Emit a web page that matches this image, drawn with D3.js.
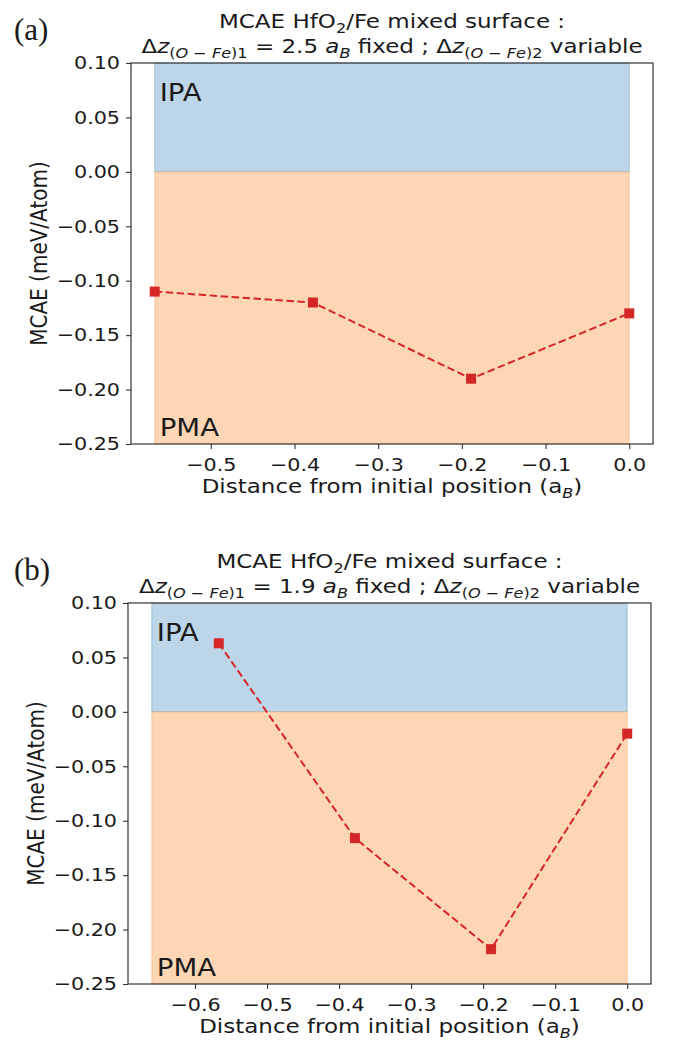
<!DOCTYPE html>
<html>
<head>
<meta charset="utf-8">
<script src="https://cdn.jsdelivr.net/npm/d3@7"></script>
<style>
  html, body { margin: 0; padding: 0; background: #fff; }
  svg { display: block; }
  text { font-family: "DejaVu Sans", sans-serif; fill: #1a1a1a; }
</style>
</head>
<body>
<svg id="chart" width="673" height="1044"></svg>
<script>
// ---------------- data ----------------
const panelLabels = ["(a)", "(b)"];
const fixedDz = ["2.5", "1.9"];
const distA = [-0.567, -0.378, -0.189, 0.0];
const mcaeA = [-0.110, -0.120, -0.190, -0.130];
const distB = [-0.567, -0.378, -0.189, 0.0];
const mcaeB = [0.063, -0.116, -0.218, -0.020];
const spanA = [-0.567, 0.0];
const spanB = [-0.66, 0.0];
const yTicks = [0.10, 0.05, 0.00, -0.05, -0.10, -0.15, -0.20, -0.25];
const xTicksA = [-0.5, -0.4, -0.3, -0.2, -0.1, 0.0];
const xTicksB = [-0.6, -0.5, -0.4, -0.3, -0.2, -0.1, 0.0];
const yDomain = [-0.25, 0.10];

const K = 1.15; // horizontal glyph stretch of reference
const svg = d3.select("#chart");

function richText(parent, x, y, segs, size, anchor, extra) {
  const t = parent.append("text")
    .attr("transform", `translate(${x},${y}) scale(${K},1)` + (extra || ""))
    .attr("font-size", size)
    .attr("text-anchor", anchor || "start");
  let shifted = 0;
  segs.forEach(s => {
    const sp = t.append("tspan").text(s.t);
    const target = s.sub ? size * 0.27 : 0;
    if (target !== shifted) { sp.attr("dy", target - shifted); shifted = target; }
    if (s.it) sp.attr("font-style", "italic");
    if (s.sub) sp.attr("font-size", size * 0.7);
  });
  return t;
}

const panels = [
  { label: panelLabels[0], dz: fixedDz[0], xs: distA, ys: mcaeA, span: spanA, xTicks: xTicksA,
    left: 131, right: 653, top: 63, bottom: 444 },
  { label: panelLabels[1], dz: fixedDz[1], xs: distB, ys: mcaeB, span: spanB, xTicks: xTicksB,
    left: 128, right: 651, top: 603, bottom: 984 }
];

panels.forEach(p => {
  const xmin = Math.min(p.span[0], d3.min(p.xs));
  const xmax = Math.max(p.span[1], d3.max(p.xs));
  const m = (xmax - xmin) * 0.05;
  const x = d3.scaleLinear().domain([xmin - m, xmax + m]).range([p.left, p.right]);
  const y = d3.scaleLinear().domain(yDomain).range([p.bottom, p.top]);
  const g = svg.append("g");

  // shaded regions
  const sx0 = x(p.span[0]), sx1 = x(p.span[1]);
  g.append("rect").attr("x", sx0).attr("width", sx1 - sx0)
    .attr("y", y(yDomain[1])).attr("height", y(0) - y(yDomain[1]))
    .attr("fill", "#bcd5e8").attr("stroke", "rgba(31,119,180,0.3)").attr("stroke-width", 1);
  g.append("rect").attr("x", sx0).attr("width", sx1 - sx0)
    .attr("y", y(0)).attr("height", y(yDomain[0]) - y(0))
    .attr("fill", "#fdd6b5").attr("stroke", "rgba(255,127,14,0.3)").attr("stroke-width", 1);

  // data line
  const pts = p.xs.map((d, i) => [d, p.ys[i]]);
  g.append("path").datum(pts)
    .attr("d", d3.line().x(d => x(d[0])).y(d => y(d[1])))
    .attr("fill", "none").attr("stroke", "#d62728").attr("stroke-width", 2)
    .attr("stroke-dasharray", "7.5,3.5");
  g.selectAll("rect.mk").data(pts).join("rect").attr("class", "mk")
    .attr("x", d => x(d[0]) - 5).attr("y", d => y(d[1]) - 5)
    .attr("width", 10).attr("height", 10).attr("fill", "#d62728");

  // region labels
  richText(g, sx0 + 5, p.top + 38, [{ t: "IPA" }], 24, "start");
  richText(g, sx0 + 5, p.bottom - 8, [{ t: "PMA" }], 24, "start");

  // axes
  const ya = g.append("g").attr("transform", `translate(${p.left},0)`)
    .call(d3.axisLeft(y).tickValues(yTicks).tickFormat(d3.format(".2f")).tickSize(5).tickPadding(6).tickSizeOuter(0));
  const xa = g.append("g").attr("transform", `translate(0,${p.bottom})`)
    .call(d3.axisBottom(x).tickValues(p.xTicks).tickFormat(d3.format(".1f")).tickSize(5).tickPadding(9).tickSizeOuter(0));
  [ya, xa].forEach(a => {
    a.select(".domain").remove();
    a.selectAll(".tick line").attr("stroke", "#333").attr("stroke-width", 1.1);
    a.selectAll(".tick text").attr("font-size", 18).attr("fill", "#1a1a1a");
  });
  ya.selectAll(".tick text").attr("transform", `scale(${K},1)`).attr("x", -11 / K);
  xa.selectAll(".tick text").attr("transform", `scale(${K},1)`);

  g.append("rect").attr("x", p.left).attr("y", p.top)
    .attr("width", p.right - p.left).attr("height", p.bottom - p.top)
    .attr("fill", "none").attr("stroke", "#333").attr("stroke-width", 1.2);

  // axis labels
  richText(g, (p.left + p.right) / 2, p.bottom + 49,
    [{ t: "Distance from initial position (a" }, { t: "B", it: true, sub: true }, { t: ")" }], 20, "middle");
  richText(g, p.left - 84, (p.top + p.bottom) / 2, [{ t: "MCAE (meV/Atom)" }], 20, "middle", " rotate(-90)");

  // title
  const cx = (p.left + p.right) / 2;
  richText(g, cx, p.top - 35,
    [{ t: "MCAE HfO" }, { t: "2", sub: true }, { t: "/Fe mixed surface :" }], 20, "middle");
  richText(g, cx, p.top - 10, [
    { t: "Δ" }, { t: "z", it: true },
    { t: "(", sub: true }, { t: "O", it: true, sub: true }, { t: " − ", sub: true },
    { t: "Fe", it: true, sub: true }, { t: ")1", sub: true },
    { t: " = " + p.dz + " " }, { t: "a", it: true }, { t: "B", it: true, sub: true },
    { t: " fixed ; Δ" }, { t: "z", it: true },
    { t: "(", sub: true }, { t: "O", it: true, sub: true }, { t: " − ", sub: true },
    { t: "Fe", it: true, sub: true }, { t: ")2", sub: true },
    { t: " variable" }
  ], 20, "middle");

  // panel label (serif)
  g.append("text").attr("x", 14).attr("y", p.top - 23)
    .style("font-family", "'Liberation Serif', 'DejaVu Serif', serif")
    .style("font-size", "31px")
    .style("fill", "#1a1a1a")
    .text(p.label);
});
</script>
</body>
</html>
